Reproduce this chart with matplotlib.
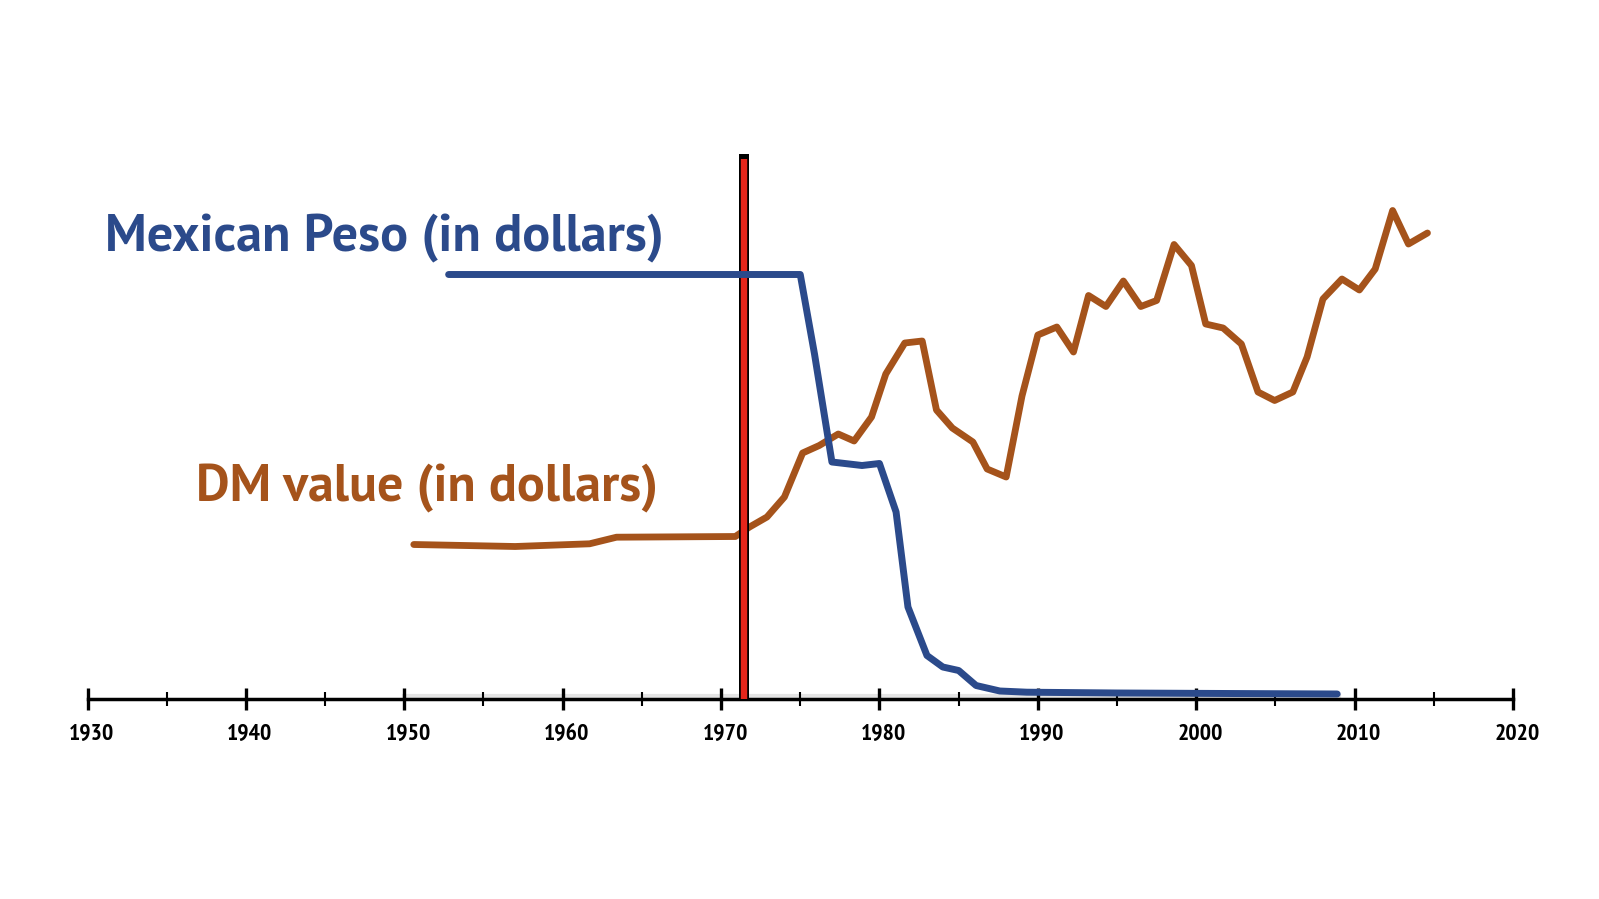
import numpy as np
import matplotlib
matplotlib.use('Agg')
import matplotlib.pyplot as plt
import matplotlib.patheffects as pe
from matplotlib.transforms import ScaledTranslation

# =============================================================================
# DATA (read off the picture; y is a relative height, no real y axis shown)
# =============================================================================

peso_years = [1952.8, 1975.0, 1975.9, 1977.0, 1978.9, 1980.0, 1981.05, 1981.8,
              1983.0, 1984.0, 1985.0, 1986.1, 1987.6, 1989.3, 1995.0, 2008.9]
peso_value = [424.5, 424.5, 345, 237, 233.5, 235.5, 187, 92,
              43.5, 32, 28.5, 13.5, 8, 6.8, 6, 5]

dm_years = [1950.6, 1957.0, 1961.7, 1963.4, 1970.9, 1971.8, 1972.9, 1974.0,
            1975.15, 1976.2, 1977.4, 1978.4, 1979.5, 1980.4, 1981.6, 1982.7,
            1983.6, 1984.6, 1985.9, 1986.8, 1988.0, 1989.0, 1990.0, 1991.2,
            1992.25, 1993.2, 1994.3, 1995.4, 1996.5, 1997.5, 1998.6, 1999.7,
            2000.6, 2001.7, 2002.85, 2003.9, 2004.95, 2006.1, 2007.0, 2008.0,
            2009.2, 2010.3, 2011.3, 2012.4, 2013.4, 2014.6]
dm_value = [154.5, 152.5, 155.2, 161.8, 162.5, 172, 182, 202,
            246, 253.5, 265, 258, 282, 325, 356, 358,
            289, 271, 257, 230, 222, 303, 364, 372,
            347, 403.5, 392.5, 418, 392.5, 398.5, 454.5, 433.5,
            375, 371, 355, 307, 298.5, 307, 342, 400,
            420, 409, 430, 488.5, 455, 466]

marker_year = 1971.43
marker_top = 540

major_ticks = list(range(1930, 2021, 10))
minor_ticks = list(range(1935, 2020, 10))

BLUE = '#2b4a8b'
BROWN = '#a5531b'
RED = '#e5261b'

TITLE_FONT = ['PT Sans', 'Lato', 'DejaVu Sans']
TICK_FONT = ['PT Sans Narrow', 'DejaVu Sans']

# =============================================================================
# FIGURE
# =============================================================================

W, H = 1599, 899
fig = plt.figure(figsize=(W / 100, H / 100), dpi=100)
ax = fig.add_axes([87.5 / W, 200 / H, (1513 - 87.5) / W, 600 / H])
ax.set_xlim(1930, 2020)
ax.set_ylim(0, 600)

for side in ['left', 'right', 'top']:
    ax.spines[side].set_visible(False)
ax.spines['bottom'].set_linewidth(2.5)
ax.set_yticks([])

ax.set_xticks(major_ticks)
ax.set_xticks(minor_ticks, minor=True)
ax.set_xticklabels([str(t) for t in major_ticks])
ax.tick_params(axis='x', which='major', direction='inout', length=15.5,
               width=2.4, pad=10, labelsize=17)
ax.tick_params(axis='x', which='minor', direction='inout', length=10.5,
               width=1.5)
offset = ScaledTranslation(4 / 100, 0, fig.dpi_scale_trans)
for lab in ax.get_xticklabels():
    lab.set_fontfamily(TICK_FONT)
    lab.set_fontweight('bold')
    lab.set_transform(lab.get_transform() + offset)

# faint shadow along the axis
ax.plot([1950, 2009], [3, 3], color='#e4e4e4', lw=3, zorder=1, clip_on=False)

# DM line
ax.plot(dm_years, dm_value, color=BROWN, lw=4.9, solid_joinstyle='round',
        solid_capstyle='round', zorder=3, clip_on=False)

# red marker line
ax.vlines(marker_year, 0, marker_top, color=RED, lw=4.6, zorder=4,
          path_effects=[pe.Stroke(linewidth=7.2, foreground='black',
                                  capstyle='projecting'), pe.Normal()])

# Peso line
ax.plot(peso_years, peso_value, color=BLUE, lw=5.0, solid_joinstyle='round',
        solid_capstyle='round', zorder=5, clip_on=False)

# labels
fig.text(105 / W, 1 - 251 / H, 'Mexican Peso (in dollars)', color=BLUE,
         fontsize=37.5, fontweight='bold', family=TITLE_FONT, va='baseline')
fig.text(196 / W, 1 - 501 / H, 'DM value (in dollars)', color=BROWN,
         fontsize=37.4, fontweight='bold', family=TITLE_FONT, va='baseline')

fig.savefig('out.png', dpi=100)
